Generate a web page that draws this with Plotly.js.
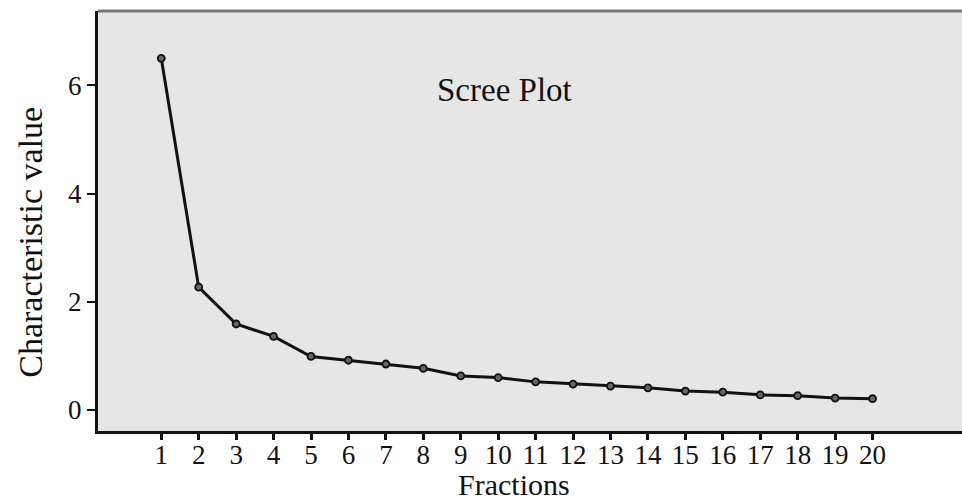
<!DOCTYPE html>
<html>
<head>
<meta charset="utf-8">
<script src="https://cdn.plot.ly/plotly-3.0.1.min.js"></script>
<style>html,body{margin:0;padding:0;background:#fff;}#chart{width:962px;height:504px;}</style>
</head>
<body>
<div id="chart"></div>
<script>
const fractions = [1,2,3,4,5,6,7,8,9,10,11,12,13,14,15,16,17,18,19,20];
const eigenvalues = [6.50,2.27,1.59,1.36,0.99,0.92,0.85,0.77,0.63,0.60,0.52,0.48,0.44,0.41,0.35,0.33,0.28,0.265,0.22,0.21];
const yTicks = [0,2,4,6];
const chartTitle = "Scree Plot";
const xTitle = "Fractions";
const yTitle = "Characteristic value";

const serif = "Liberation Serif";

const trace = {
  x: fractions,
  y: eigenvalues,
  type: "scatter",
  mode: "lines+markers",
  line: {color: "#111", width: 3},
  marker: {symbol: "circle", size: 7, color: "#666", line: {color: "#111", width: 1.8}},
  showlegend: false,
  hoverinfo: "x+y"
};

const layout = {
  width: 962, height: 504,
  margin: {l: 98, r: 0, t: 11, b: 73, pad: 0},
  paper_bgcolor: "#ffffff",
  plot_bgcolor: "#e6e6e6",
  font: {family: serif, color: "#111"},
  xaxis: {
    range: [-0.69, 22.39],
    tickmode: "array", tickvals: fractions, ticktext: fractions.map(String),
    ticks: "outside", ticklen: 6, tickwidth: 3, tickcolor: "#111",
    ticklabelstandoff: -8,
    tickfont: {family: serif, size: 27, color: "#111"},
    showline: true, linecolor: "#111", linewidth: 3,
    showgrid: false, zeroline: false, fixedrange: true
  },
  yaxis: {
    range: [-0.388, 7.375],
    tickmode: "array", tickvals: yTicks, ticktext: yTicks.map(String),
    ticks: "outside", ticklen: 8, tickwidth: 2, tickcolor: "#111",
    tickfont: {family: serif, size: 27, color: "#111"},
    showline: true, linecolor: "#111", linewidth: 3,
    showgrid: false, zeroline: false, fixedrange: true
  },
  shapes: [
    {type: "line", xref: "paper", yref: "paper", x0: 0, x1: 1, y0: 1, y1: 1,
     line: {color: "#777", width: 3}}
  ],
  annotations: [
    {text: chartTitle, xref: "paper", yref: "paper", x: 0.471, y: 0.812,
     xanchor: "center", yanchor: "middle", showarrow: false,
     font: {family: serif, size: 33, color: "#111"}},
    {text: xTitle, xref: "paper", yref: "paper", x: 0.482, y: -0.128,
     xanchor: "center", yanchor: "middle", showarrow: false,
     font: {family: serif, size: 30, color: "#111"}},
    {text: yTitle, xref: "paper", yref: "paper", x: -0.079, y: 0.45,
     xanchor: "center", yanchor: "middle", showarrow: false, textangle: -90,
     font: {family: serif, size: 34, color: "#111"}}
  ]
};

Plotly.newPlot("chart", [trace], layout, {displayModeBar: false, staticPlot: true});
</script>
</body>
</html>
